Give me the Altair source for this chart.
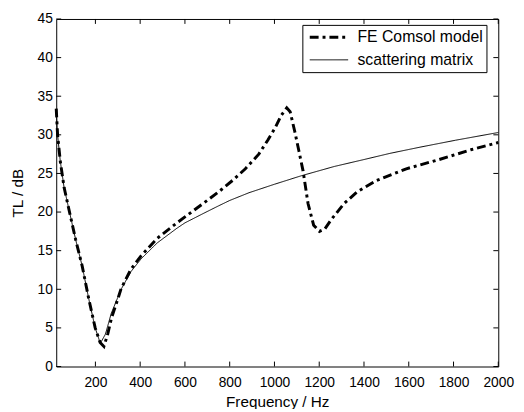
import altair as alt
import pandas as pd

# FE Comsol model (dash-dot) series
fe_freq = [25, 31, 43, 60, 82, 112, 141, 170, 199, 221, 238, 255, 272, 302, 315, 359, 403,
           476, 564, 681, 750, 813, 870, 930, 970, 1003, 1030, 1055, 1070, 1091, 1110,
           1128, 1150, 1175, 1201, 1225, 1253, 1311, 1369, 1457, 1589, 1736, 1882, 2000]
fe_tl = [33.4, 30.0, 26.6, 23.2, 20.3, 16.4, 13.0, 8.8, 5.0, 3.1, 2.6, 4.2, 6.3, 8.9, 10.1, 12.6, 14.3,
         16.6, 18.6, 21.1, 22.6, 24.1, 25.6, 27.5, 29.3, 30.9, 32.5, 33.5, 33.0, 30.4, 27.8,
         25.3, 21.1, 18.3, 17.5, 17.8, 19.0, 21.1, 22.6, 24.1, 25.6, 26.8, 28.1, 29.0]

# scattering matrix (thin) series
sm_freq = [25, 31, 43, 60, 82, 112, 141, 170, 199, 222, 245, 271, 315, 359, 403, 476, 564,
           600, 681, 750, 800, 886, 1000, 1120, 1267, 1400, 1516, 1650, 1809, 2000]
sm_tl = [33.0, 30.0, 26.6, 23.2, 20.3, 16.4, 13.0, 8.8, 5.0, 3.0, 4.2, 6.9, 10.0, 12.3, 13.9, 16.0, 17.9,
         18.6, 19.8, 20.8, 21.5, 22.5, 23.6, 24.7, 25.9, 26.8, 27.6, 28.4, 29.3, 30.3]

series_names = ["FE Comsol model", "scattering matrix"]

x_ticks = [200, 400, 600, 800, 1000, 1200, 1400, 1600, 1800, 2000]
y_ticks = [0, 5, 10, 15, 20, 25, 30, 35, 40, 45]

W, H = 449, 353
FONT = "Liberation Sans"

df = pd.concat([
    pd.DataFrame({"f": fe_freq, "tl": fe_tl, "s": series_names[0]}),
    pd.DataFrame({"f": sm_freq, "tl": sm_tl, "s": series_names[1]}),
])
xt = pd.DataFrame({"f": x_ticks})
yt = pd.DataFrame({"tl": y_ticks})

xscale = alt.Scale(domain=[25, 2000], nice=False, zero=False)
yscale = alt.Scale(domain=[0, 45], nice=False, zero=False)

xaxis = alt.Axis(
    values=x_ticks, format="d", title="Frequency / Hz", grid=False, ticks=False,
    tickSize=0, domain=False, labelFont=FONT, labelFontSize=14, labelColor="black",
    labelPadding=9, labelFlush=False, labelOverlap=False, titleFont=FONT,
    titleFontSize=15.5, titleFontWeight="normal", titleColor="black", titleY=36,
    titleBaseline="middle")
yaxis = alt.Axis(
    values=y_ticks, format="d", title="TL / dB", grid=False, ticks=False, tickSize=0,
    domain=False, labelFont=FONT, labelFontSize=14, labelColor="black",
    labelPadding=4, labelFlush=False, labelOverlap=False, titleFont=FONT,
    titleFontSize=15.5, titleFontWeight="normal", titleColor="black", titleX=-39,
    titleY=H / 2, titleBaseline="middle", titleAngle=270)

leg = alt.Legend(
    orient="none", legendX=250, legendY=6, direction="vertical",
    symbolType="stroke", symbolSize=1521, symbolStrokeColor="black",
    symbolOffset=3, labelFont=FONT, labelFontSize=16, labelColor="black",
    labelOffset=8, labelLimit=400, fillColor="white", strokeColor="black",
    padding=3, rowPadding=4, clipHeight=19,
)

lines = alt.Chart(df).mark_line(color="black", strokeCap="butt", strokeJoin="miter").encode(
    x=alt.X("f:Q", scale=xscale, axis=xaxis, title="Frequency / Hz"),
    y=alt.Y("tl:Q", scale=yscale, axis=yaxis, title="TL / dB"),
    strokeDash=alt.StrokeDash("s:N", scale=alt.Scale(domain=series_names,
                              range=[[9, 4, 3, 4], [1, 0]]), legend=leg, title=None),
    strokeWidth=alt.StrokeWidth("s:N", scale=alt.Scale(domain=series_names,
                                range=[3, 1]), legend=leg, title=None),
    detail="s:N",
)

TL = 5
bottom_ticks = alt.Chart(xt).mark_rule(color="black", strokeWidth=1).encode(
    x=alt.X("f:Q", scale=xscale, axis=xaxis, title="Frequency / Hz"),
    y=alt.value(H), y2=alt.value(H - TL))
top_ticks = alt.Chart(xt).mark_rule(color="black", strokeWidth=1).encode(
    x=alt.X("f:Q", scale=xscale, axis=xaxis, title="Frequency / Hz"),
    y=alt.value(0), y2=alt.value(TL))
left_ticks = alt.Chart(yt).mark_rule(color="black", strokeWidth=1).encode(
    y=alt.Y("tl:Q", scale=yscale, axis=yaxis, title="TL / dB"),
    x=alt.value(0), x2=alt.value(TL))
right_ticks = alt.Chart(yt).mark_rule(color="black", strokeWidth=1).encode(
    y=alt.Y("tl:Q", scale=yscale, axis=yaxis, title="TL / dB"),
    x=alt.value(W), x2=alt.value(W - TL))

chart = alt.layer(lines, bottom_ticks, top_ticks, left_ticks, right_ticks).properties(
    width=W, height=H,
    autosize=alt.AutoSizeParams(type="none"),
    padding={"left": 49, "top": 8, "right": 18, "bottom": 40},
    background="white",
).configure_view(stroke="black", strokeWidth=1)

chart.save("out.html", embed_options={"renderer": "svg", "actions": False})
